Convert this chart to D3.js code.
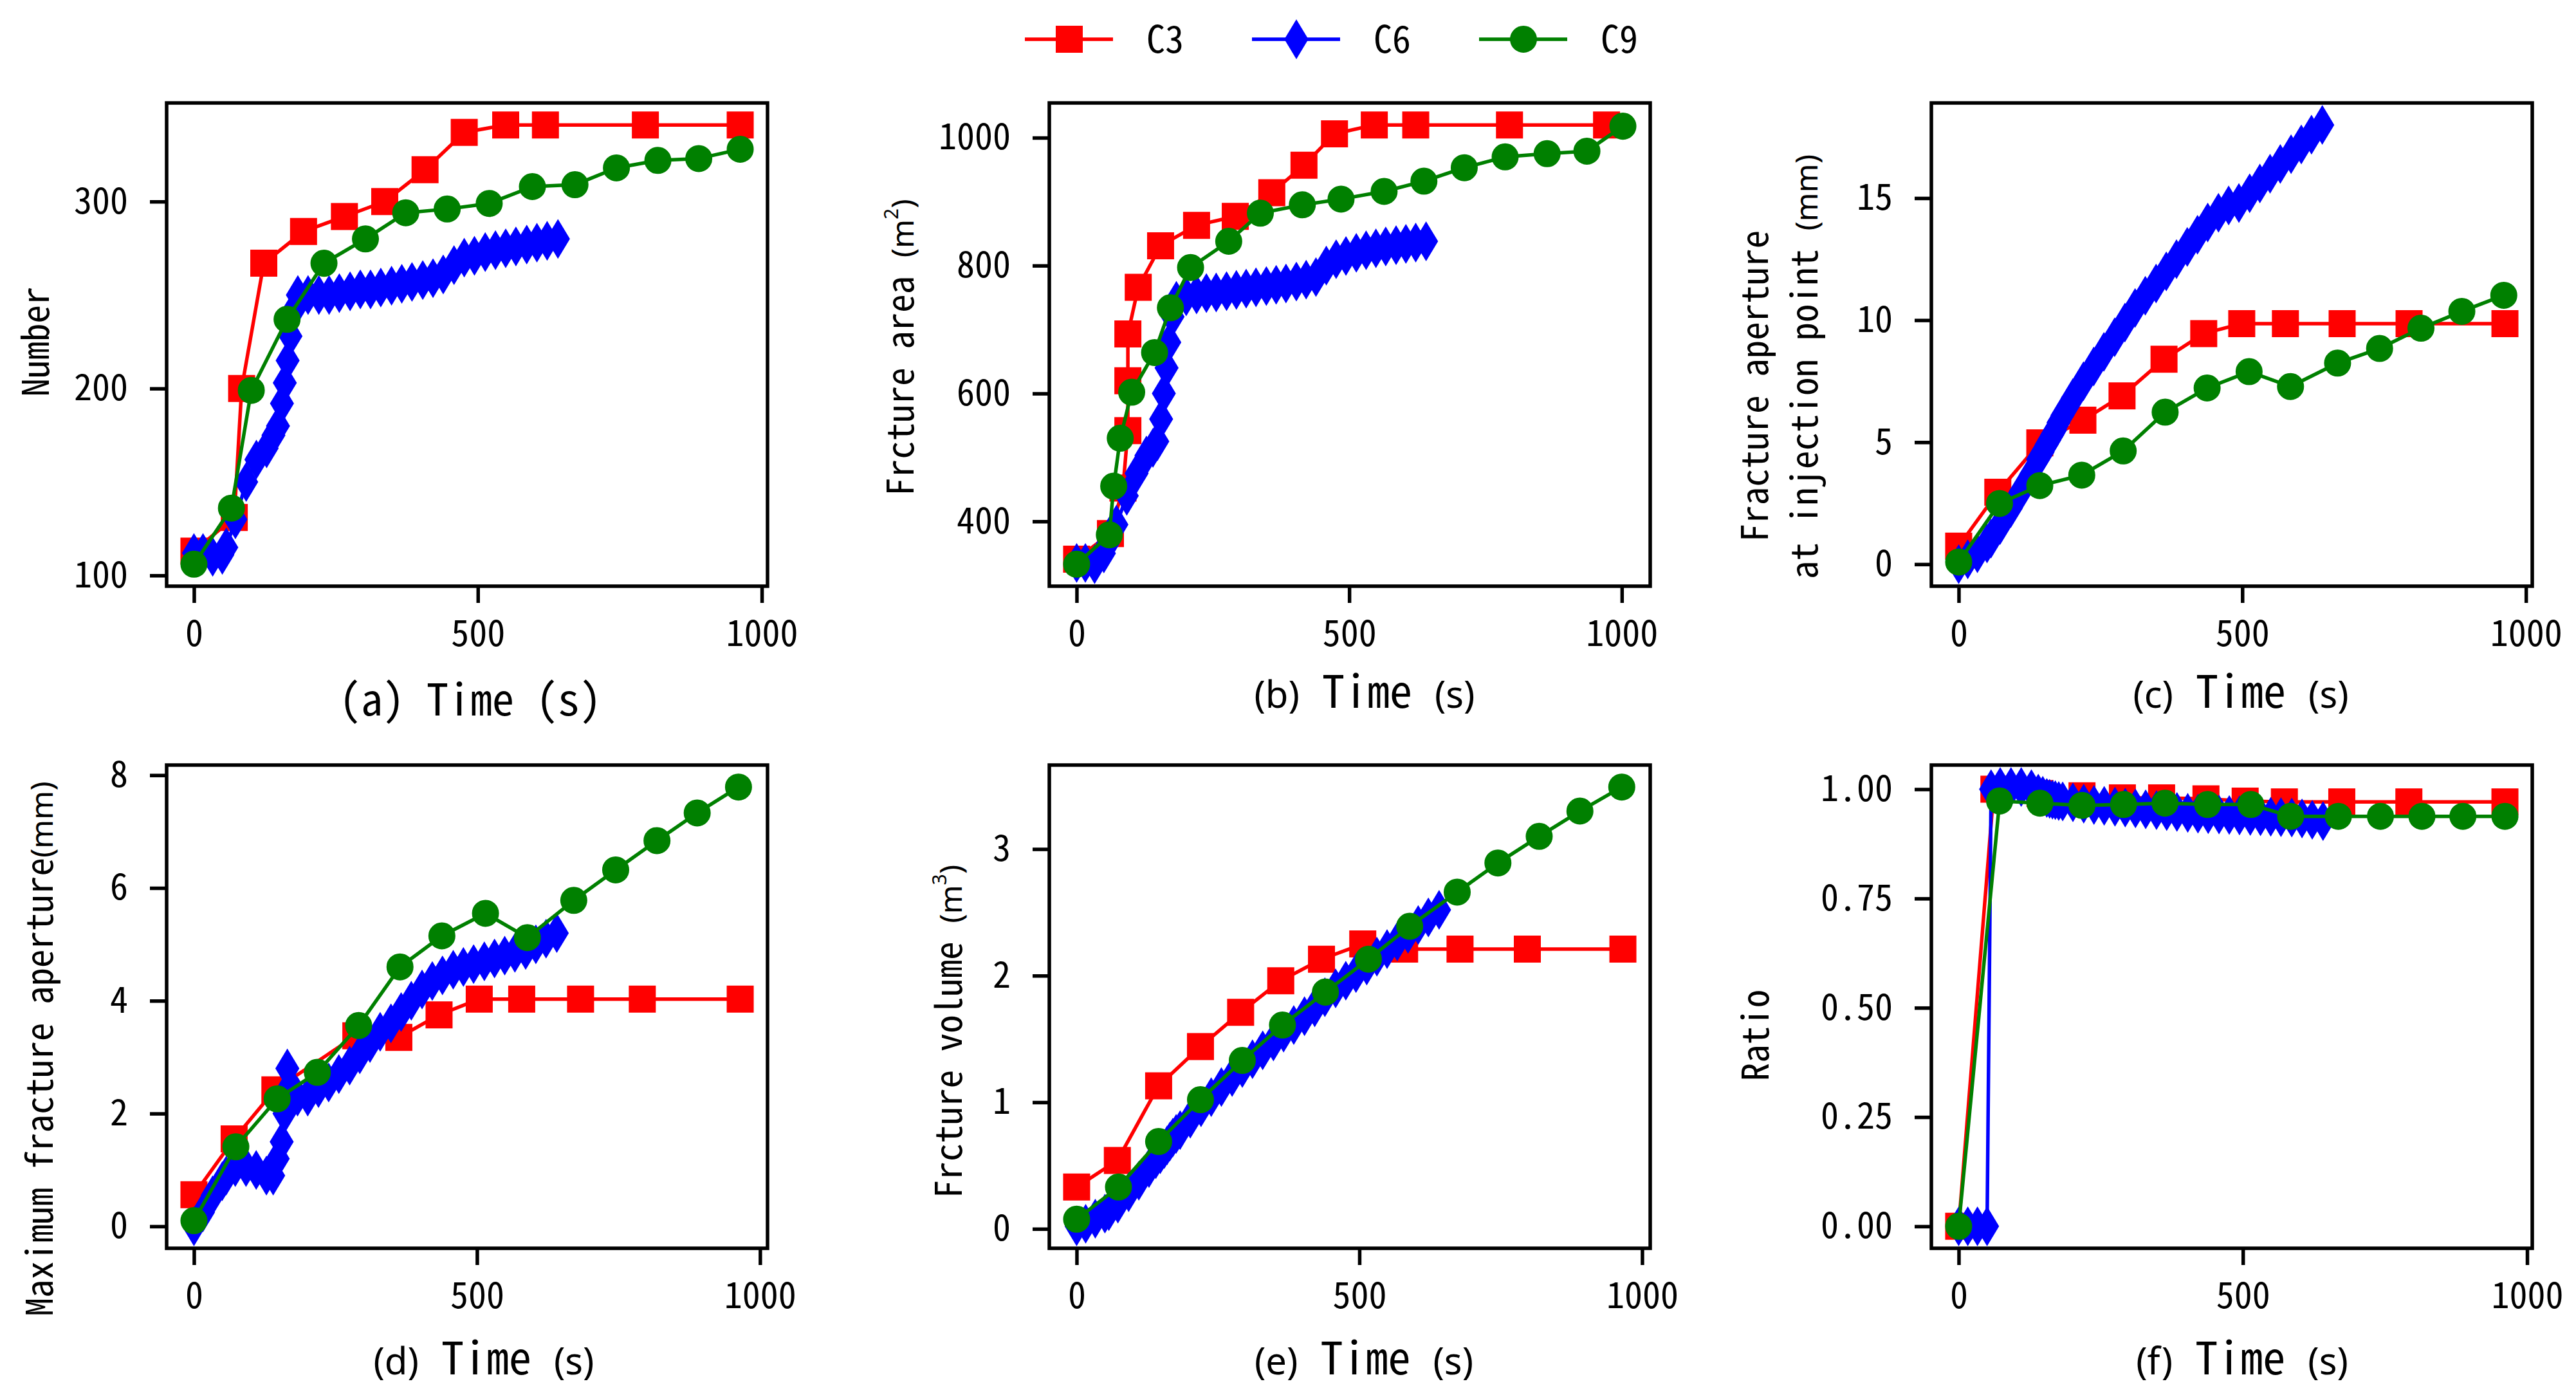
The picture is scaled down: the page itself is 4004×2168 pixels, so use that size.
<!DOCTYPE html>
<html>
<head>
<meta charset="utf-8">
<style>
  body { margin: 0; background: #fff; }
  svg text { font-family: "Noto Sans Mono CJK SC", "DejaVu Sans Mono", monospace; fill: #000; }
  .tick line { stroke: #000; stroke-width: 5.5px; }
  .tick text { font-size: 56px; }
  .small { font-family: "Noto Sans", "DejaVu Sans", sans-serif; }
  .spine { fill: none; stroke: #000; stroke-width: 5.5px; }
</style>
</head>
<body>
<svg width="4004" height="2168"></svg>
<script src="https://d3js.org/d3.v7.min.js"></script>
<script>
// ---- data ----
const seriesNames = ["C3", "C6", "C9"];
const xTicks = [0, 500, 1000];

// C6 was saved on a finer time grid, shared by every panel
const c6Time = [0, 16, 33, 50, 57, 73, 92, 110, 128, 140, 148, 155, 160, 165, 170, 176, 183,
  201, 220, 238, 256, 275, 293, 311, 329, 348, 366, 384, 403, 421, 439, 458, 476, 494, 513,
  531, 549, 567, 586, 604, 622, 641];

// (a) number of fractures
const numberC3Time = [0, 71, 84, 123, 193, 265, 336, 407, 476, 549, 619, 795, 962];
const numberC3 = [113, 131, 200, 267, 284, 292, 300, 317, 337, 341, 341, 341, 341];
const numberC6 = [112, 112, 110, 111, 115, 130, 150, 162, 168, 175, 180, 192, 203, 215, 228, 242, 250,
  250, 250, 250, 251, 252, 253, 253, 254, 255, 256, 257, 258, 259, 261, 266, 270, 271, 273,
  274, 275, 276, 277, 278, 279, 280];
const numberC9Time = [0, 66, 101, 164, 229, 302, 373, 446, 520, 596, 671, 744, 817, 889, 962];
const numberC9 = [106, 136, 199, 237, 267, 280, 294, 296, 299, 308, 309, 318, 322, 323, 328];
const numberTicks = [100, 200, 300];

// (b) fracture area
const areaC3Time = [0, 62, 85, 94, 94, 94, 113, 154, 220, 291, 358, 417, 473, 546, 622, 794, 972];
const areaC3 = [341, 381, 452, 542, 620, 693, 766, 831, 863, 877, 914, 957, 1006, 1020, 1020, 1020, 1020];
const areaC6 = [335, 335, 333, 350, 365, 395, 440, 475, 503, 515, 525, 560, 600, 640, 680, 720, 745,
  752, 755, 757, 758, 760, 762, 764, 766, 768, 770, 772, 775, 778, 782, 800, 810, 815, 820,
  824, 827, 830, 832, 834, 836, 838];
const areaC9Time = [0, 60, 68, 80, 101, 143, 172, 209, 279, 337, 414, 485, 564, 637, 711, 786, 863, 936, 1002];
const areaC9 = [333, 379, 455, 530, 602, 664, 734, 797, 838, 882, 895, 904, 916, 932, 953, 970, 975, 979, 1018];
const areaTicks = [400, 600, 800, 1000];

// (c) aperture at injection point
const injC3Time = [0, 69, 143, 219, 288, 362, 432, 499, 576, 676, 794, 963];
const injC3 = [0.74, 2.95, 4.97, 5.9, 6.9, 8.4, 9.45, 9.86, 9.86, 9.86, 9.86, 9.86];
const injC6 = [0.0, 0.2, 0.45, 0.85, 1.05, 1.6, 2.3, 3.0, 3.7, 4.3, 4.6, 4.9, 5.1, 5.3, 5.5, 5.8, 6.1,
  6.8, 7.5, 8.1, 8.7, 9.3, 9.9, 10.5, 11.0, 11.5, 12.0, 12.5, 13.0, 13.5, 14.0, 14.4, 14.7, 14.8, 15.2,
  15.6, 16.0, 16.4, 16.8, 17.2, 17.6, 18.0];
const injC9Time = [0, 72, 143, 217, 290, 364, 438, 512, 585, 668, 742, 815, 887, 961];
const injC9 = [0.09, 2.49, 3.22, 3.65, 4.64, 6.23, 7.22, 7.89, 7.28, 8.24, 8.84, 9.67, 10.36, 11.02];
const injTicks = [0, 5, 10, 15];

// (d) maximum aperture
const maxC3Time = [0, 71, 143, 286, 362, 433, 504, 579, 683, 792, 965];
const maxC3 = [0.56, 1.55, 2.42, 3.38, 3.35, 3.75, 4.03, 4.03, 4.03, 4.03, 4.03];
const maxC6 = [0.0, 0.25, 0.55, 0.8, 0.9, 1.05, 1.05, 1.0, 0.9, 0.9, 1.2, 1.5, 2.0, 2.8, 2.5, 2.35, 2.3,
  2.3, 2.45, 2.55, 2.7, 2.85, 3.05, 3.25, 3.45, 3.6, 3.8, 4.0, 4.2, 4.35, 4.45, 4.55, 4.6, 4.65, 4.7,
  4.75, 4.8, 4.85, 4.9, 5.0, 5.1, 5.2];
const maxC9Time = [0, 74, 147, 218, 291, 364, 438, 515, 589, 671, 745, 818, 889, 962];
const maxC9 = [0.1, 1.41, 2.26, 2.73, 3.56, 4.6, 5.15, 5.55, 5.12, 5.78, 6.32, 6.84, 7.33, 7.79];
const maxTicks = [0, 2, 4, 6, 8];

// (e) fracture volume
const volC3Time = [0, 72, 145, 219, 290, 361, 433, 506, 580, 678, 797, 966];
const volC3 = [0.33, 0.54, 1.13, 1.44, 1.71, 1.96, 2.13, 2.25, 2.21, 2.21, 2.21, 2.21];
const volC6 = [0.02, 0.04, 0.08, 0.12, 0.14, 0.2, 0.29, 0.38, 0.48, 0.55, 0.59, 0.63, 0.66, 0.69, 0.72, 0.75, 0.78,
  0.87, 0.96, 1.04, 1.12, 1.2, 1.27, 1.34, 1.41, 1.48, 1.55, 1.61, 1.68, 1.75, 1.83, 1.9, 1.96, 2.02, 2.08,
  2.15, 2.21, 2.27, 2.33, 2.4, 2.46, 2.52];
const volC9Time = [0, 74, 145, 219, 293, 364, 440, 516, 589, 673, 745, 818, 890, 964];
const volC9 = [0.076, 0.33, 0.69, 1.02, 1.33, 1.61, 1.87, 2.13, 2.39, 2.66, 2.89, 3.1, 3.3, 3.49];
const volTicks = [0, 1, 2, 3];

// (f) ratio
const ratioC3Time = [0, 62, 143, 217, 288, 357, 435, 504, 573, 674, 792, 961];
const ratioC3 = [0, 1.0, 0.99, 0.985, 0.98, 0.98, 0.978, 0.973, 0.971, 0.971, 0.971, 0.971];
const ratioC6 = [0, 0, 0, 0, 1.0, 1.005, 1.005, 1.005, 1.0, 0.99, 0.985, 0.98, 0.978, 0.976, 0.975, 0.973, 0.972,
  0.97, 0.967, 0.964, 0.962, 0.96, 0.958, 0.956, 0.954, 0.952, 0.95, 0.948, 0.946, 0.944, 0.943, 0.942, 0.941, 0.94, 0.939,
  0.938, 0.937, 0.936, 0.935, 0.933, 0.93, 0.927];
const ratioC9Time = [0, 72, 143, 217, 290, 363, 438, 514, 584, 668, 742, 815, 887, 961];
const ratioC9 = [0, 0.973, 0.968, 0.963, 0.965, 0.968, 0.965, 0.965, 0.938, 0.938, 0.938, 0.938, 0.938, 0.938];
const ratioTicks = [0, 0.25, 0.5, 0.75, 1.0];

// ---- layout ----
const svg = d3.select("svg");
const cols = [259, 1631, 3002];
const rows = [160, 1189];
const W = 934, H = 751;
const colors = { C3: "#ff0000", C6: "#0000ff", C9: "#008000" };

const diamond = "M0,-29L17.5,0L0,29L-17.5,0Z";
const markerPath = {
  C3: d3.symbol(d3.symbolSquare, 1600)(),
  C6: diamond,
  C9: d3.symbol(d3.symbolCircle, 1257)()
};

const panels = [
  { col: 0, row: 0, c3t: numberC3Time, c3: numberC3, c6: numberC6, c9t: numberC9Time, c9: numberC9,
    ticks: numberTicks, fmt: d3.format("d"),
    xlab: { x: 731, y: 1112, parts: [["(a) Time (s)", "whole"]] },
    ylab: [{ x: 76, y: 531, parts: [["Number", "lab"]] }] },
  { col: 1, row: 0, c3t: areaC3Time, c3: areaC3, c6: areaC6, c9t: areaC9Time, c9: areaC9,
    ticks: areaTicks, fmt: d3.format("d"),
    xlab: { x: 2121, y: 1100, parts: [["(b)", "sm"], [" Time ", "big"], ["(s)", "sm"]] },
    ylab: [{ x: 1420, y: 540, parts: [["Frcture area ", "lab"], ["(m", "unit"], ["2", "sup"], [")", "unit"]] }] },
  { col: 2, row: 0, c3t: injC3Time, c3: injC3, c6: injC6, c9t: injC9Time, c9: injC9,
    ticks: injTicks, fmt: d3.format("d"),
    xlab: { x: 3483, y: 1100, parts: [["(c)", "sm"], [" Time ", "big"], ["(s)", "sm"]] },
    ylab: [{ x: 2748, y: 600, parts: [["Fracture aperture", "lab"]] },
           { x: 2825, y: 570, parts: [["at injection point ", "lab"], ["(mm)", "unit"]] }] },
  { col: 0, row: 1, c3t: maxC3Time, c3: maxC3, c6: maxC6, c9t: maxC9Time, c9: maxC9,
    ticks: maxTicks, fmt: d3.format("d"),
    xlab: { x: 752, y: 2136, parts: [["(d)", "sm"], [" Time ", "big"], ["(s)", "sm"]] },
    ylab: [{ x: 82, y: 1630, parts: [["Maximum fracture aperture", "lab"], ["(mm)", "unit"]] }] },
  { col: 1, row: 1, c3t: volC3Time, c3: volC3, c6: volC6, c9t: volC9Time, c9: volC9,
    ticks: volTicks, fmt: d3.format("d"),
    xlab: { x: 2120, y: 2136, parts: [["(e)", "sm"], [" Time ", "big"], ["(s)", "sm"]] },
    ylab: [{ x: 1495, y: 1603, parts: [["Frcture volume ", "lab"], ["(m", "unit"], ["3", "sup"], [")", "unit"]] }] },
  { col: 2, row: 1, c3t: ratioC3Time, c3: ratioC3, c6: ratioC6, c9t: ratioC9Time, c9: ratioC9,
    ticks: ratioTicks, fmt: d3.format(".2f"),
    xlab: { x: 3485, y: 2136, parts: [["(f)", "sm"], [" Time ", "big"], ["(s)", "sm"]] },
    ylab: [{ x: 2749, y: 1609, parts: [["Ratio", "lab"]] }] }
];

const partStyle = {
  whole: { size: 68, cls: "" },
  big: { size: 70, cls: "" },
  sm: { size: 58, cls: "small" },
  lab: { size: 57, cls: "" },
  unit: { size: 48, cls: "small" },
  sup: { size: 30, cls: "small", dy: -24 }
};

function addParts(textSel, parts) {
  parts.forEach(([str, kind]) => {
    const st = partStyle[kind];
    const ts = textSel.append("tspan").attr("class", st.cls).style("font-size", st.size + "px")
      .attr("xml:space", "preserve").text(str);
    if (st.dy) ts.attr("dy", st.dy);
    if (kind === "unit" && str === ")") ts.attr("dy", 24);
  });
}

// matplotlib style autoscale: data range padded by 5%
function padded(vals) {
  const [lo, hi] = d3.extent(vals);
  const p = (hi - lo) * 0.05;
  return [lo - p, hi + p];
}

panels.forEach(p => {
  const left = cols[p.col], top = rows[p.row];
  const series = [
    { name: "C3", t: p.c3t, v: p.c3 },
    { name: "C6", t: c6Time, v: p.c6 },
    { name: "C9", t: p.c9t, v: p.c9 }
  ];
  const x = d3.scaleLinear()
    .domain(padded(series.flatMap(s => s.t)))
    .range([left, left + W]);
  const y = d3.scaleLinear()
    .domain(padded(series.flatMap(s => s.v)))
    .range([top + H, top]);

  const g = svg.append("g");

  g.append("g")
    .attr("transform", `translate(0,${top + H})`)
    .call(d3.axisBottom(x).tickValues(xTicks).tickSize(26).tickPadding(27).tickFormat(d3.format("d")))
    .call(a => a.select(".domain").remove());

  g.append("g")
    .attr("transform", `translate(${left},0)`)
    .call(d3.axisLeft(y).tickValues(p.ticks).tickSize(26).tickPadding(34).tickFormat(p.fmt))
    .call(a => a.select(".domain").remove());

  const line = d3.line().x(d => x(d[0])).y(d => y(d[1]));

  series.forEach(s => {
    const pts = s.t.map((t, i) => [t, s.v[i]]);
    const sg = g.append("g");
    sg.append("path")
      .attr("d", line(pts))
      .attr("fill", "none")
      .attr("stroke", colors[s.name])
      .attr("stroke-width", 5.5)
      .attr("stroke-linejoin", "round");
    sg.selectAll("path.mk")
      .data(pts)
      .join("path")
      .attr("class", "mk")
      .attr("d", markerPath[s.name])
      .attr("transform", d => `translate(${x(d[0])},${y(d[1])})`)
      .attr("fill", colors[s.name])
      .attr("stroke", colors[s.name])
      .attr("stroke-width", 2);
  });

  g.append("rect")
    .attr("class", "spine")
    .attr("x", left).attr("y", top)
    .attr("width", W).attr("height", H);

  const xl = g.append("text")
    .attr("x", p.xlab.x).attr("y", p.xlab.y)
    .attr("text-anchor", "middle");
  addParts(xl, p.xlab.parts);

  p.ylab.forEach(l => {
    const yl = g.append("text")
      .attr("transform", `translate(${l.x},${l.y}) rotate(-90)`)
      .attr("text-anchor", "middle");
    addParts(yl, l.parts);
  });
});

// ---- legend ----
const legendX = d3.scalePoint().domain(seriesNames).range([1593, 2299]);
const lg = svg.append("g");
seriesNames.forEach(name => {
  const x0 = legendX(name);
  lg.append("line")
    .attr("x1", x0).attr("x2", x0 + 137)
    .attr("y1", 61).attr("y2", 61)
    .attr("stroke", colors[name]).attr("stroke-width", 5.5);
  lg.append("path")
    .attr("d", markerPath[name])
    .attr("transform", `translate(${x0 + 69},61)`)
    .attr("fill", colors[name]).attr("stroke", colors[name]).attr("stroke-width", 2);
  lg.append("text")
    .attr("x", x0 + 189).attr("y", 82)
    .style("font-size", "58px")
    .text(name);
});
</script>
</body>
</html>
